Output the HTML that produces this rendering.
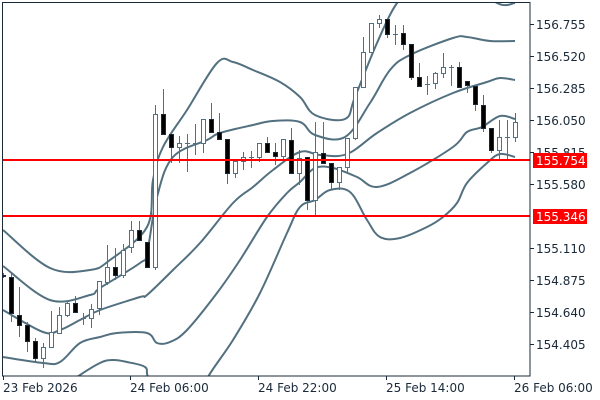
<!DOCTYPE html>
<html><head><meta charset="utf-8"><style>
html,body{margin:0;padding:0;background:#fff;width:600px;height:400px;overflow:hidden}
svg{display:block}
text{font-family:"DejaVu Sans","Liberation Sans",sans-serif;font-size:12px;fill:#1a2a3a}
</style></head><body>
<svg width="600" height="400" viewBox="0 0 600 400" xmlns="http://www.w3.org/2000/svg">
<defs><clipPath id="c"><rect x="2" y="2" width="528" height="374"/></clipPath></defs>
<g id="bands" clip-path="url(#c)" fill="none" stroke="#52707f" stroke-width="2" stroke-linejoin="round">
<polyline points="3,230 50,268 90,270 110,260 147,227 153,180 163,147 187,110 217,63 233,62 253,70 280,82 300,97 315,115 345,119 355,97 377,43 397,3 420,-20 460,-25 497,3 515,3"/>
<polyline points="3,266 50,300 90,295 100,288 140,263 147,253 157,197 173,157 207,140 220,133 253,125 273,121 300,122 315,135 345,137 370,103 390,70 410,55 453,38 467,37 490,41 515,41"/>
<polyline points="3,310 43,332 60,330 80,320 100,310 140,297 147,295 173,270 200,243 233,203 253,187 273,170 300,152 320,155 347,154 377,133 410,113 453,93 487,82 500,78 515,80"/>
<polyline points="3,357 43,363 60,362 80,343 100,337 117,333 147,333 157,343 170,342 187,330 217,293 240,260 267,217 287,193 300,182 315,168 333,168 357,177 377,187 410,173 453,147 467,132 482,127 500,116 515,119"/>
<polyline points="60,390 77,377 100,363 113,360 127,362 145,367 148,377 160,400 200,400 208,377 233,340 260,293 287,233 300,207 315,200 330,190 350,192 367,220 380,237 400,238 427,227 443,217 457,203 467,183 487,163 500,154 515,157"/>
</g>
<g id="candles" clip-path="url(#c)"></g>
<line x1="2" y1="160" x2="530" y2="160" stroke="#ff0000" stroke-width="2"/>
<line x1="2" y1="216" x2="530" y2="216" stroke="#ff0000" stroke-width="2"/>
<rect x="2.5" y="2.5" width="527.5" height="373.5" fill="none" stroke="#1a2a3a" stroke-width="1"/>
<g stroke="#1a2a3a" stroke-width="1">
<line x1="530" y1="24.5" x2="534" y2="24.5"/><line x1="530" y1="56.5" x2="534" y2="56.5"/><line x1="530" y1="88.5" x2="534" y2="88.5"/><line x1="530" y1="120.5" x2="534" y2="120.5"/><line x1="530" y1="152.5" x2="534" y2="152.5"/><line x1="530" y1="184.5" x2="534" y2="184.5"/><line x1="530" y1="248.5" x2="534" y2="248.5"/><line x1="530" y1="280.5" x2="534" y2="280.5"/><line x1="530" y1="312.5" x2="534" y2="312.5"/><line x1="530" y1="344.5" x2="534" y2="344.5"/>
<line x1="3.5" y1="376" x2="3.5" y2="380"/><line x1="130.5" y1="376" x2="130.5" y2="380"/><line x1="258.5" y1="376" x2="258.5" y2="380"/><line x1="386.5" y1="376" x2="386.5" y2="380"/><line x1="514.5" y1="376" x2="514.5" y2="380"/>
</g>
<g>
<text x="536" y="29">156.755</text><text x="536" y="61">156.520</text><text x="536" y="93">156.285</text><text x="536" y="125">156.050</text><text x="536" y="157">155.815</text><text x="536" y="189">155.580</text><text x="536" y="253">155.110</text><text x="536" y="285">154.875</text><text x="536" y="317">154.640</text><text x="536" y="349">154.405</text>
<text x="3" y="392">23 Feb 2026</text><text x="130" y="392">24 Feb 06:00</text><text x="258" y="392">24 Feb 22:00</text><text x="386" y="392">25 Feb 14:00</text><text x="514" y="392">26 Feb 06:00</text>
</g>
<rect x="533" y="153" width="54" height="15" fill="#ff0000"/>
<text x="536" y="165" style="fill:#fff">155.754</text>
<rect x="533" y="209" width="54" height="15" fill="#ff0000"/>
<text x="536" y="221" style="fill:#fff">155.346</text>
</svg>
<script>
var NS="http://www.w3.org/2000/svg";
// smooth band polylines
var bands=document.getElementById('bands');
Array.prototype.slice.call(bands.querySelectorAll('polyline')).forEach(function(pl){
var p=pl.getAttribute('points').trim().split(/\s+/).map(function(s){return s.split(',').map(Number);});
var dd='M'+p[0][0]+','+p[0][1];
for(var i=0;i<p.length-1;i++){var p0=p[i-1]||p[i],p1=p[i],p2=p[i+1],p3=p[i+2]||p2;var t=0.35;
var c1x=p1[0]+(p2[0]-p0[0])*t/2*1,c1y=p1[1]+(p2[1]-p0[1])*t/2,c2x=p2[0]-(p3[0]-p1[0])*t/2,c2y=p2[1]-(p3[1]-p1[1])*t/2;
dd+=' C'+c1x+','+c1y+' '+c2x+','+c2y+' '+p2[0]+','+p2[1];}
var path=document.createElementNS(NS,'path');path.setAttribute('d',dd);bands.replaceChild(path,pl);});
var d=[[275,276,273,278],[277,313,272,322],[315,325,287,337],[325,341,322,352],[341,358,338,362],[358,347,343,368],[347,332,311,347],[333,315,307,334],[315,303,301,317],[303,312,296,312],[318,318,313,325],[318,309,304,328],[308,281,281,315],[282,267,245,285],[267,275,248,280],[275,250,244,278],[247,230,221,253],[230,240,221,241],[242,267,242,267],[267,114,105,270],[114,134,89,135],[134,147,134,163],[147,143,136,163],[143,143,134,172],[143,143,124,155],[143,119,119,153],[119,132,103,132],[132,139,113,139],[139,173,139,184],[173,161,161,178],[161,157,152,170],[157,157,151,168],[157,143,143,162],[143,152,137,152],[152,156,143,165],[156,139,139,161],[140,173,128,173],[173,158,150,185],[157,200,157,210],[200,152,122,215],[153,163,122,163],[163,182,163,190],[182,167,167,190],[167,138,138,172],[138,87,87,140],[87,52,37,87],[52,23,23,52],[23,19,15,28],[19,34,19,38],[34,34,25,45],[33,44,25,50],[44,77,44,80],[77,86,63,86],[84,84,76,95],[83,73,72,89],[73,67,53,78],[67,67,65,86],[67,87,62,87],[81,85,81,93],[86,104,86,111],[105,128,95,132],[128,150,128,153],[150,137,120,160],[137,137,120,160],[137,122,113,142]];
var g=document.getElementById('candles');
function el(n,a){var e=document.createElementNS(NS,n);for(var k in a)e.setAttribute(k,a[k]);g.appendChild(e);}
d.forEach(function(c,i){var x=3+8*i+0.5,o=c[0],cl=c[1],h=c[2],l=c[3];var t=Math.min(o,cl),b=Math.max(o,cl);var bull=cl<o;
el('line',{x1:x,y1:h,x2:x,y2:l,stroke:'#52707f','stroke-width':1});
if(b-t<1){el('line',{x1:x-2.5,y1:t+0.5,x2:x+2.5,y2:t+0.5,stroke:'#52707f','stroke-width':1});}
else{el('rect',{x:x-2,y:t+0.5,width:4,height:b-t,fill:bull?'#fff':'#000',stroke:bull?'#52707f':'#1a2a3a','stroke-width':1});}});
</script>
</body></html>
